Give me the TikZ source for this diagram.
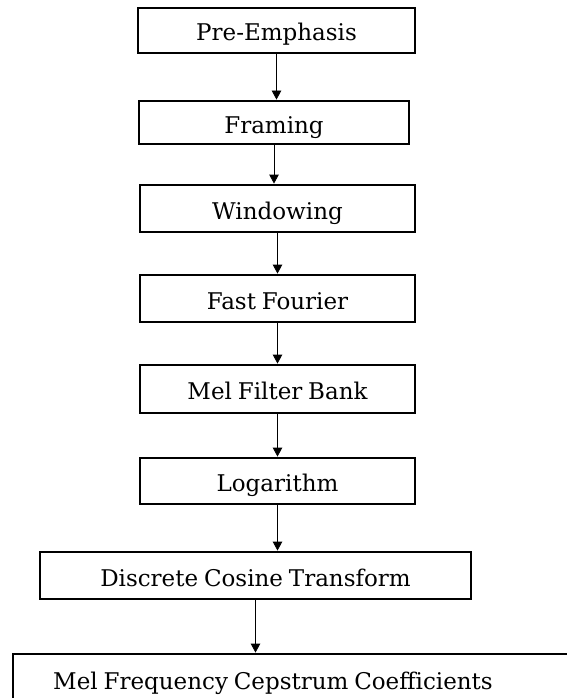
\documentclass[tikz,border=0pt]{standalone}
\usepackage{fontspec}
\setmainfont[WordSpace=0.8]{DejaVu Serif}
\usepackage{tikz}
\usetikzlibrary{positioning, arrows.meta, calc}

\begin{document}
\begin{tikzpicture}[x=1pt, y=-1pt,
		stage/.style={draw, line width=2.8pt, rectangle, minimum height=46pt, inner sep=0pt, text height=21pt, text depth=0pt, font=\fontsize{23}{27}\selectfont},
		flow/.style={line width=0.8pt, -{Triangle[width=9.5pt, length=9pt]}}]
		\useasboundingbox (0, 0) rectangle (566, 698);
		% processing stages
		\node[stage, minimum width=277pt, minimum height=45pt] (preemph) at (276.5, 30.5){Pre-Emphasis};
		\node[stage, minimum width=270pt, minimum height=43pt] (framing) at (274, 122.5){Framing};
		\node[stage, minimum width=275pt, minimum height=47pt] (window) at (277.5, 208.5){Windowing};
		\node[stage, minimum width=275pt, minimum height=47pt] (fft) at (277.5, 298.5){Fast Fourier};
		\node[stage, minimum width=275pt, minimum height=48pt] (melbank) at (277.5, 389){Mel Filter Bank};
		\node[stage, minimum width=275pt] (logar) at (277.5, 481){Logarithm};
		\node[stage, minimum width=431pt, minimum height=47pt] (dct) at (255.5, 575.5){Discrete Cosine Transform};
		\node[stage, minimum width=580pt, minimum height=50pt] (mfcc) at (303, 679){\hspace*{-60pt}Mel Frequency Cepstrum Coefficients};
		% arrows between stages
		\draw[flow] (preemph.south) -- (preemph.south |- framing.north);
		\draw[flow] (framing.south) -- (framing.south |- window.north);
		\draw[flow] (window.south) -- (window.south |- fft.north);
		\draw[flow] (fft.south) -- (fft.south |- melbank.north);
		\draw[flow] (melbank.south) -- (melbank.south |- logar.north);
		\draw[flow] (logar.south) -- (logar.south |- dct.north);
		\draw[flow] (dct.south) -- (dct.south |- mfcc.north);
	\end{tikzpicture}
\end{document}
